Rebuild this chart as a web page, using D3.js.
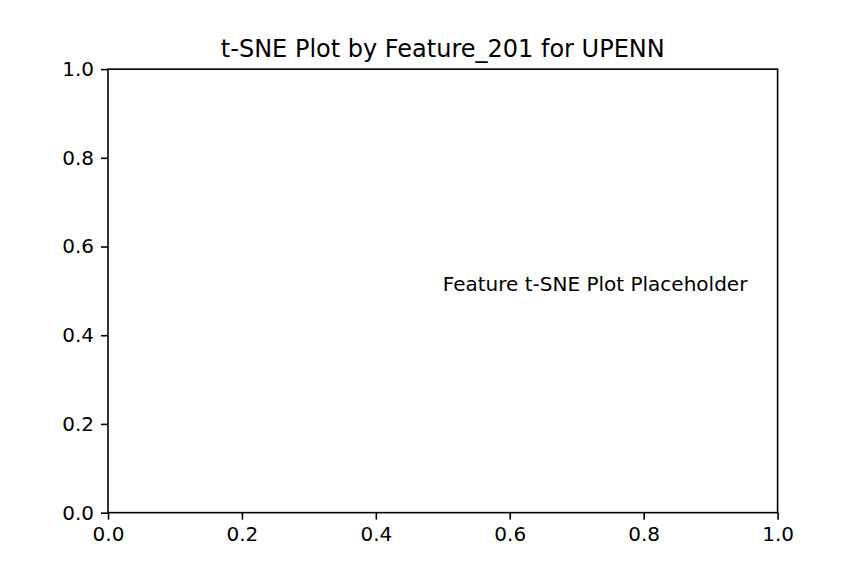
<!DOCTYPE html>
<html>
<head>
<meta charset="utf-8">
<script src="https://cdn.jsdelivr.net/npm/d3@7"></script>
<style>
  html, body { margin: 0; padding: 0; background: #fff; }
  text { font-family: "DejaVu Sans", sans-serif; fill: #000; }
</style>
</head>
<body>
<div id="canvas"></div>
<script>
"use strict"

// chart content
let chartTitle = "t-SNE Plot by Feature_201 for UPENN";
let xTicks = [0.0, 0.2, 0.4, 0.6, 0.8, 1.0];
let yTicks = [0.0, 0.2, 0.4, 0.6, 0.8, 1.0];
let noteText = ["Feature t-SNE Plot Placeholder"];
let notePos = [[0.5, 0.5]];

let width = 864, height = 576;

/* axes box, matplotlib default subplot params */
let axLeft = 0.125 * width, axRight = 0.9 * width;
let axTop = (1 - 0.88) * height, axBottom = (1 - 0.11) * height;

let drawing = d3.select("#canvas")
    .append("svg")
    .attr("width", width)
    .attr("height", height);

let x = d3.scaleLinear().domain([0, 1]).range([axLeft, axRight]);
let y = d3.scaleLinear().domain([0, 1]).range([axBottom, axTop]);

let xAxis = drawing.append("g")
    .attr("transform", "translate(0," + axBottom + ")")
    .call(d3.axisBottom(x).tickValues(xTicks).tickFormat(d3.format(".1f"))
        .tickSize(7).tickPadding(7).tickSizeOuter(0));

let yAxis = drawing.append("g")
    .attr("transform", "translate(" + axLeft + ",0)")
    .call(d3.axisLeft(y).tickValues(yTicks).tickFormat(d3.format(".1f"))
        .tickSize(7).tickPadding(7).tickSizeOuter(0));

drawing.selectAll(".domain").remove();
drawing.selectAll(".tick line").attr("stroke", "#000").attr("stroke-width", 1.6);
drawing.selectAll(".tick text")
    .attr("font-size", "20px")
    .attr("font-family", "DejaVu Sans")
    .attr("fill", "#000");

// frame
let frame = drawing.append("rect")
    .attr("x", axLeft)
    .attr("y", axTop)
    .attr("width", axRight - axLeft)
    .attr("height", axBottom - axTop)
    .attr("fill", "none")
    .attr("stroke", "#000")
    .attr("stroke-width", 1.6);

// placeholder text at data coords
drawing.selectAll(".note")
    .data(noteText)
    .enter()
    .append("text")
    .attr("class", "note")
    .attr("x", (d, i) => x(notePos[i][0]))
    .attr("y", (d, i) => y(notePos[i][1]))
    .attr("font-size", "20px")
    .text(d => d);

let title = drawing.append("text")
    .attr("x", (axLeft + axRight) / 2)
    .attr("y", axTop - 12)
    .attr("text-anchor", "middle")
    .attr("font-size", "24px")
    .text(chartTitle);
</script>
</body>
</html>
